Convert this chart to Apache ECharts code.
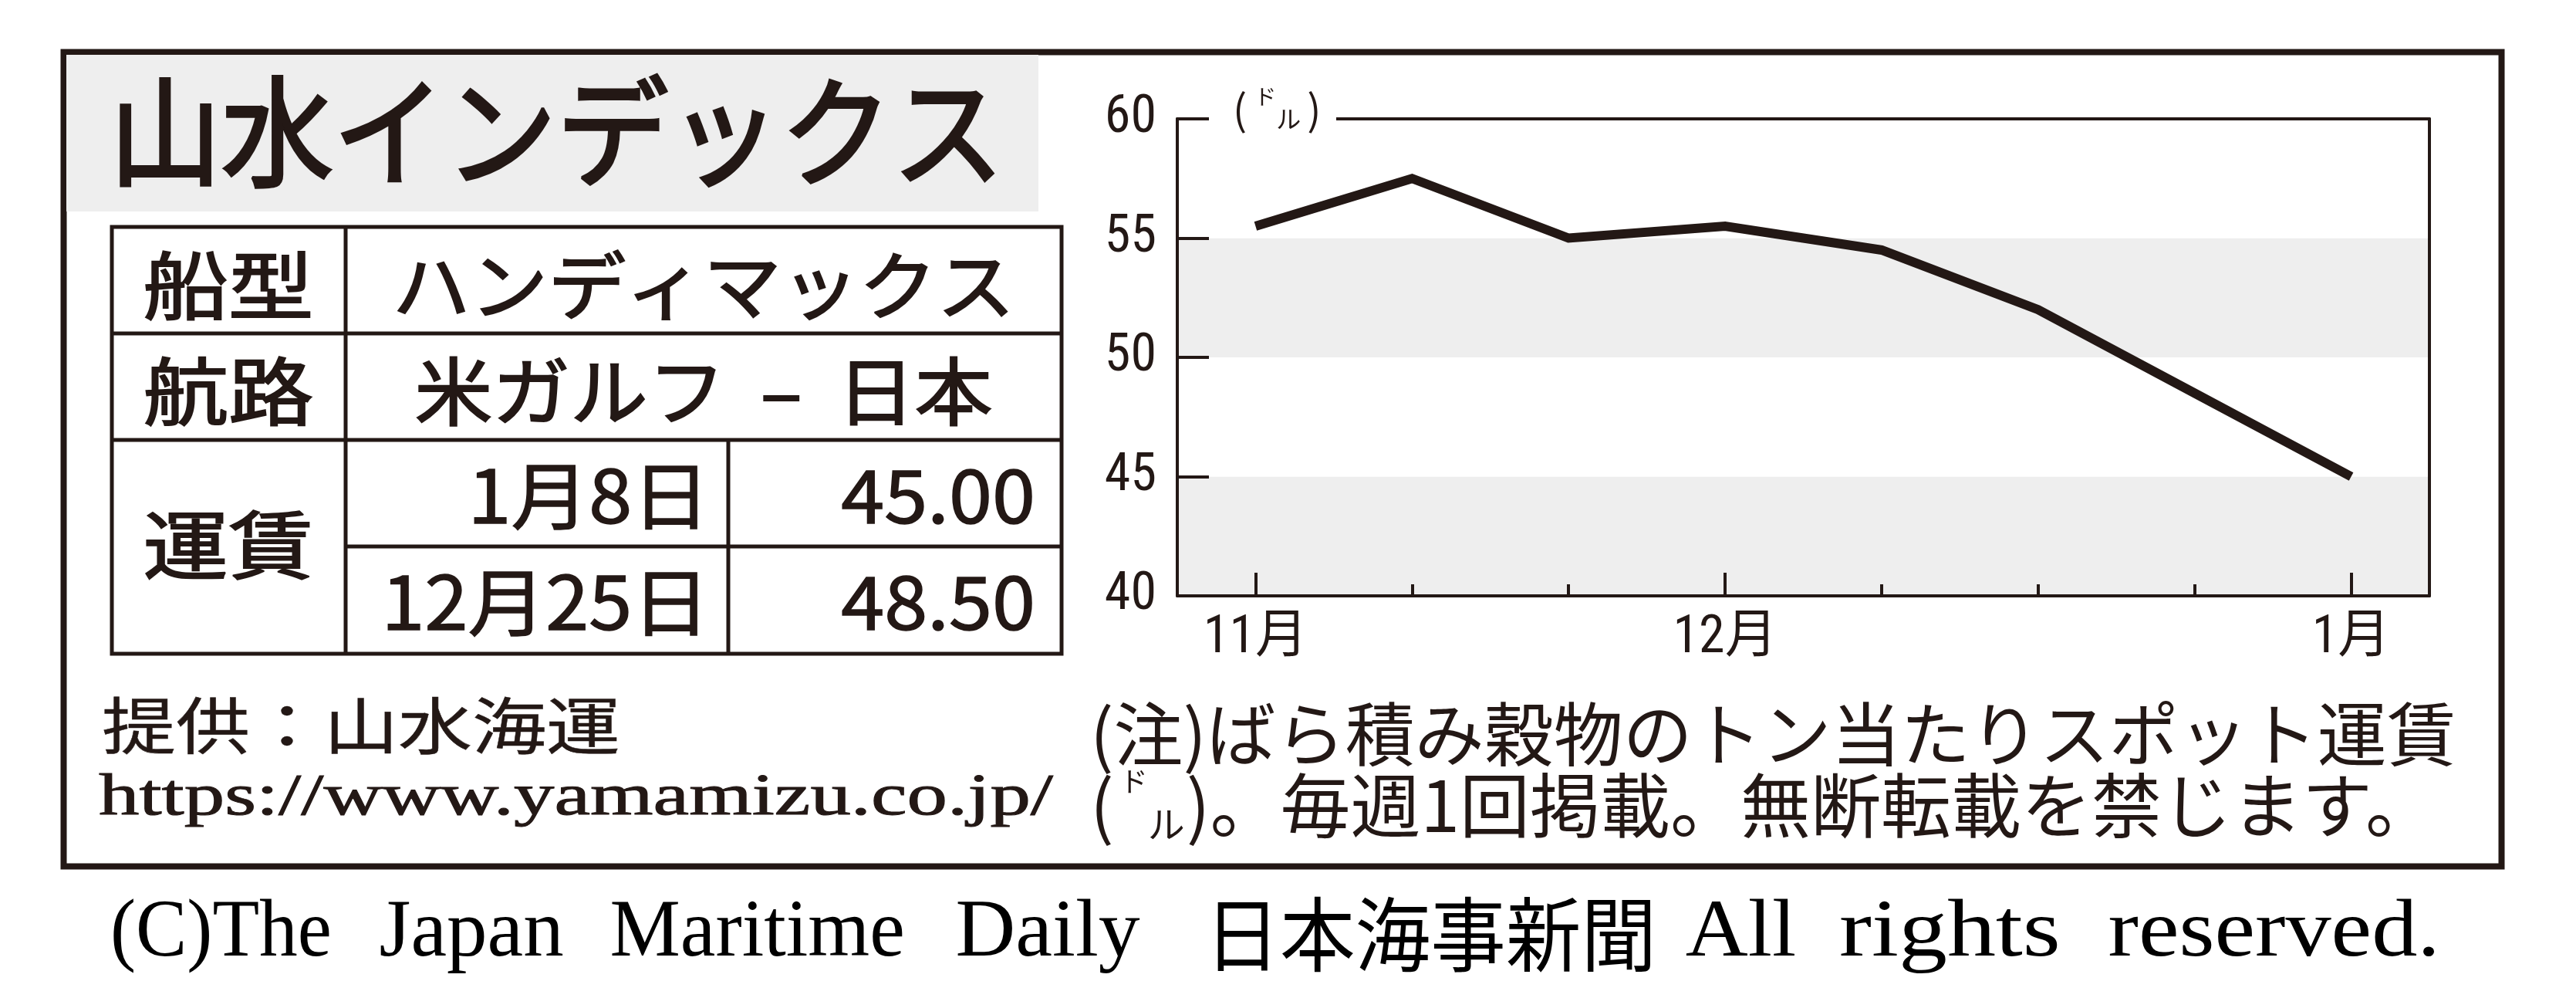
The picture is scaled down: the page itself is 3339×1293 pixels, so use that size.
<!DOCTYPE html>
<html><head><meta charset="utf-8">
<script src="https://cdn.jsdelivr.net/npm/echarts@6/dist/echarts.min.js"></script>
<style>html,body{margin:0;padding:0;background:#fff}#c{width:3339px;height:1293px}</style>
</head><body><div id="c"></div>
<script>
// ---- data ----
const weeks = ['11/13','11/20','11/27','12/4','12/11','12/18','12/25','1/8'];
const tickLabels = ['11月','','','12月','','','','1月'];
const rates = [55.5, 57.5, 55.0, 55.5, 54.5, 52.0, 48.5, 45.0];
const yMin = 40, yMax = 60, yStep = 5;
const titleText = '山水インデックス';
const rowHeads = ['船型','航路','運賃'];
const rowBodies = ['ハンディマックス','米ガルフ  –  日本'];
const fareDates = ['1月8日','12月25日'];
const fareValues = ['45.00','48.50'];
const sourceLines = ['提供：山水海運','https://www.yamamizu.co.jp/'];
const noteLine1 = '(注)ばら積み穀物のトン当たりスポット運賃';
const noteLine2Tail = '。毎週1回掲載。無断転載を禁じます。';
const unitText = 'ドル';
const copyrightText = '(C)The Japan Maritime Daily 日本海事新聞 All rights reserved.';

const INK = '#231815';
const GRAY = '#eeeeee';
const CJK = "'Noto Sans CJK JP', sans-serif";
const NARROW = "'Liberation Sans Narrow', 'Roboto Condensed', 'Noto Sans CJK JP', sans-serif";
const SERIF = "'Liberation Serif', serif";

function txt(text, x, y, o) {
  o = o || {};
  const st = {
    text: text, fill: o.fill || INK, fontSize: o.size || 96,
    fontFamily: o.family || CJK, fontWeight: o.weight || 'normal',
    align: o.align || 'center', verticalAlign: o.va || 'middle'
  };
  if (o.rich) st.rich = o.rich;
  if (o.sw) { st.stroke = o.fill || INK; st.lineWidth = o.sw; }
  return {type: 'text', x: x, y: y, z: 100, scaleX: o.sx || 1, scaleY: o.sy || 1, style: st};
}
function ln(x1, y1, x2, y2, w) {
  return {type: 'line', z: 100, shape: {x1, y1, x2, y2}, style: {stroke: INK, lineWidth: w || 5}};
}

// monospaced copyright line, laid out word by word in half-width cells
const measureCtx = document.createElement('canvas').getContext('2d');
function copyrightWords() {
  const out = [];
  const cell = 49.8, x0 = 141, y = 1210;
  let idx = 0;
  const tokens = copyrightText.split(' ');
  tokens.forEach((tk) => {
    const isCJK = /[\u3000-\u9fff]/.test(tk);
    const cells = isCJK ? tk.length * 2 : tk.length;
    const w = cells * cell;
    const fam = isCJK ? CJK : SERIF;
    measureCtx.font = '100px ' + fam;
    const mw = measureCtx.measureText(tk).width;
    const sx = isCJK ? w / mw * 0.98 : w / mw * 0.96;
    out.push(txt(tk, x0 + idx * cell + (isCJK ? 26 : 2), y, {size: 100, family: fam, align: 'left', sx: sx, sy: 1.05, fill: '#000'}));
    idx += cells + 1;
  });
  return out;
}

const paren = (fs, pad) => ({fontSize: fs, fontFamily: CJK, fill: INK, lineHeight: fs * 1.08, padding: pad});

const graphics = [
  // outer frame
  {type: 'rect', z: 90, shape: {x: 82.5, y: 67.5, width: 3160, height: 1055}, style: {fill: 'none', stroke: INK, lineWidth: 8}},
  // title background
  {type: 'rect', z: 91, shape: {x: 86, y: 71, width: 1260, height: 203}, style: {fill: GRAY}},
  txt(titleText, 142, 170, {size: 155, align: 'left', sx: 0.935, sw: 4}),
  // table
  {type: 'rect', z: 100, shape: {x: 145, y: 294, width: 1231, height: 553}, style: {fill: 'none', stroke: INK, lineWidth: 5}},
  ln(145, 432, 1376, 432), ln(145, 570, 1376, 570), ln(448, 708, 1376, 708),
  ln(448, 294, 448, 847), ln(944, 570, 944, 847),
  txt(rowHeads[0], 296, 370, {size: 96, sx: 1.15, sw: 2}),
  txt(rowHeads[1], 296, 507, {size: 96, sx: 1.15, sw: 2}),
  txt(rowHeads[2], 296, 706, {size: 96, sx: 1.15, sw: 2}),
  txt(rowBodies[0], 912, 370, {size: 96, sx: 1.05, sw: 2}),
  txt(rowBodies[1], 912, 507, {size: 96, sx: 1.05, sw: 2}),
  txt(fareDates[0], 920, 642, {size: 96, sx: 1.05, align: 'right', sw: 1.5}),
  txt(fareValues[0], 1342, 642, {size: 96, sx: 1.05, align: 'right', sw: 1.5}),
  txt(fareDates[1], 920, 780, {size: 96, sx: 1.05, align: 'right', sw: 1.5}),
  txt(fareValues[1], 1342, 780, {size: 96, sx: 1.05, align: 'right', sw: 1.5}),
  // source
  txt(sourceLines[0], 132, 940, {size: 80, sx: 1.2, align: 'left', sw: 0.5}),
  txt(sourceLines[1], 128, 1035, {size: 76, sx: 1.38, align: 'left', family: SERIF, sw: 1}),
  // notes
  txt(noteLine1, 1413, 951, {size: 90, align: 'left'}),
  txt('{p|(}{d|' + unitText[0] + '}{l|' + unitText[1] + '}{q|)}{m|' + noteLine2Tail + '}', 1413, 1043, {
    size: 91, align: 'left',
    rich: {
      p: paren(91, [0, 8, 0, 0]),
      q: paren(91, [0, 0, 0, 2]),
      d: {fontSize: 36, fontFamily: CJK, fill: INK, verticalAlign: 'top', lineHeight: 98},
      l: {fontSize: 48, fontFamily: CJK, fill: INK, verticalAlign: 'bottom', lineHeight: 98},
      m: {fontSize: 91, fontFamily: CJK, fill: INK, lineHeight: 98}
    }
  }),
  // unit label on chart + gap in top border
  {type: 'rect', z: 99, shape: {x: 1567, y: 144, width: 165, height: 20}, style: {fill: '#fff'}},
  txt('{p|(}{d|' + unitText[0] + '}{l|' + unitText[1] + '}{q|)}', 1598, 141, {
    size: 50, align: 'left',
    rich: {
      p: paren(54, [0, 10, 0, 0]),
      q: paren(54, [0, 0, 0, 8]),
      d: {fontSize: 28, fontFamily: CJK, fill: INK, verticalAlign: 'top', lineHeight: 58},
      l: {fontSize: 32, fontFamily: CJK, fill: INK, verticalAlign: 'bottom', lineHeight: 58}
    }
  })
].concat(copyrightWords());

const axisLineStyle = {color: INK, width: 4};
const option = {
  animation: false,
  backgroundColor: '#fff',
  grid: {left: 1526, top: 154, width: 1623, height: 618, containLabel: false},
  xAxis: [
    {
      type: 'category', data: weeks, boundaryGap: true, position: 'bottom',
      axisLine: {show: true, lineStyle: axisLineStyle},
      axisTick: {show: true, inside: true, alignWithLabel: true, length: 15, interval: 0, lineStyle: {color: INK, width: 4}},
      axisLabel: {interval: 0, formatter: (v, i) => tickLabels[i], fontSize: 68, fontFamily: NARROW, color: INK, margin: 22},
      splitLine: {show: false}
    },
    {
      type: 'category', data: weeks, boundaryGap: true, position: 'bottom',
      axisLine: {show: false}, axisLabel: {show: false}, splitLine: {show: false},
      axisTick: {show: true, inside: true, alignWithLabel: true, length: 30,
        interval: (i) => tickLabels[i] !== '', lineStyle: {color: INK, width: 4}}
    },
    {
      type: 'category', data: weeks, boundaryGap: true, position: 'top',
      axisLine: {show: true, lineStyle: {color: INK, width: 4}},
      axisTick: {show: false}, axisLabel: {show: false}, splitLine: {show: false}
    }
  ],
  yAxis: [
    {
      type: 'value', min: yMin, max: yMax, interval: yStep, position: 'left',
      axisLine: {show: true, lineStyle: axisLineStyle},
      axisTick: {show: true, inside: true, length: 41, lineStyle: {color: INK, width: 4}},
      axisLabel: {fontSize: 68, fontFamily: NARROW, color: INK, margin: 27},
      splitLine: {show: false},
      splitArea: {show: true, areaStyle: {color: [GRAY, '#ffffff']}}
    },
    {
      type: 'value', min: yMin, max: yMax, interval: yStep, position: 'right',
      axisLine: {show: true, lineStyle: {color: INK, width: 4}},
      axisTick: {show: false}, axisLabel: {show: false}, splitLine: {show: false}
    }
  ],
  series: [{
    type: 'line', data: rates, xAxisIndex: 0, yAxisIndex: 0,
    symbol: 'none', z: 5,
    lineStyle: {color: INK, width: 12, join: 'miter', cap: 'butt'}
  }],
  graphic: graphics
};
const chart = echarts.init(document.getElementById('c'), null, {renderer: 'canvas'});
chart.setOption(option);
</script>
</body></html>
